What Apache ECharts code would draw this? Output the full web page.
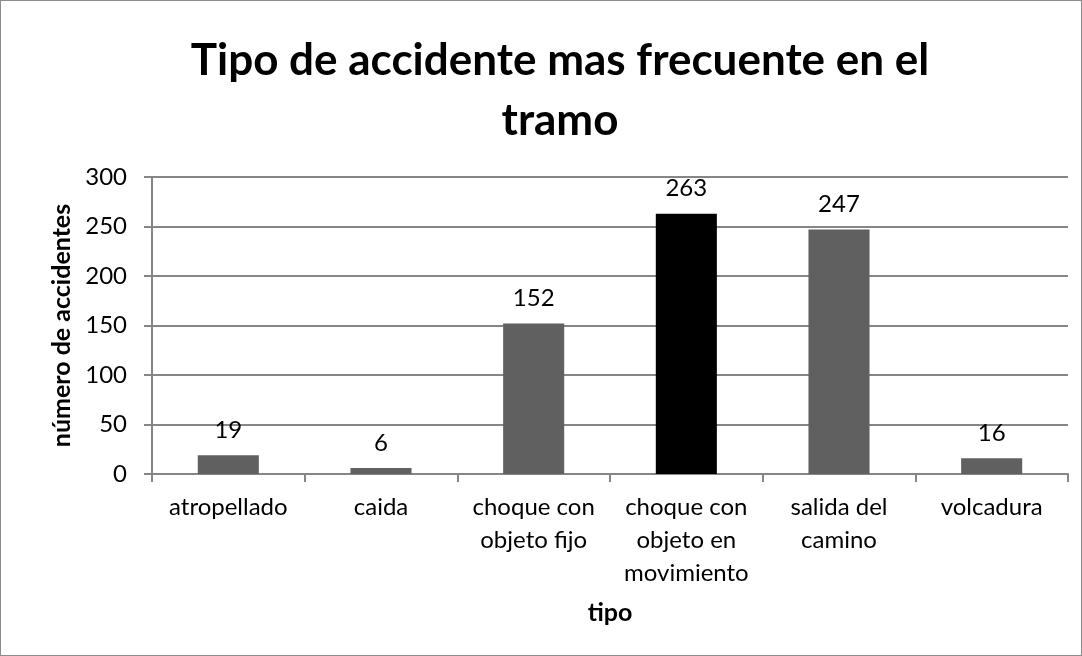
<!DOCTYPE html>
<html>
<head>
<meta charset="utf-8">
<script src="https://cdn.jsdelivr.net/npm/echarts@6/dist/echarts.min.js"></script>
<style>
  html, body { margin: 0; padding: 0; background: #fff; }
  #chart {
    width: 1080px;
    height: 654px;
    border: 1px solid #8c8c8c;
  }
</style>
</head>
<body>
<div id="chart"></div>
<script>
const categories = ['atropellado', 'caida', 'choque con\nobjeto fijo', 'choque con\nobjeto en\nmovimiento', 'salida del\ncamino', 'volcadura']
const values = [19, 6, 152, 263, 247, 16]
const highlight = 3

const font = 'Lato, "Open Sans", sans-serif'
const axisGrey = '#868686'

const chart = echarts.init(document.getElementById('chart'))
chart.setOption({
  textStyle: { fontFamily: font },
  title: {
    text: 'Tipo de accidente mas frecuente en el\ntramo',
    left: 554,
    textAlign: 'center',
    top: 25,
    textStyle: {
      fontFamily: font,
      fontSize: 44,
      fontWeight: 'bold',
      color: '#000',
      lineHeight: 60
    }
  },
  grid: { left: 151, right: 13, top: 176, bottom: 181 },
  xAxis: {
    type: 'category',
    data: categories,
    name: 'tipo',
    nameLocation: 'middle',
    nameGap: 126,
    nameTextStyle: { fontFamily: font, fontSize: 25, fontWeight: 'bold', color: '#000' },
    axisLine: { lineStyle: { color: axisGrey, width: 2 } },
    axisTick: { show: true, length: 8, lineStyle: { color: axisGrey, width: 2 } },
    axisLabel: { fontFamily: font, fontSize: 24, color: '#000', margin: 17, lineHeight: 33, interval: 0 }
  },
  yAxis: {
    type: 'value',
    min: 0,
    max: 300,
    interval: 50,
    name: 'número de accidentes',
    nameLocation: 'middle',
    nameGap: 76,
    nameTextStyle: { fontFamily: font, fontSize: 25, fontWeight: 'bold', color: '#000' },
    axisLine: { show: true, lineStyle: { color: axisGrey, width: 2 } },
    axisTick: { show: true, length: 8, lineStyle: { color: axisGrey, width: 2 } },
    axisLabel: { fontFamily: font, fontSize: 24, color: '#000', margin: 25 },
    splitLine: { lineStyle: { color: axisGrey, width: 2 } }
  },
  series: [{
    type: 'bar',
    barWidth: '40%',
    data: values.map((v, i) => ({
      value: v,
      itemStyle: { color: i === highlight ? '#000000' : '#606060' }
    })),
    label: {
      show: true,
      position: 'top',
      distance: 13,
      fontFamily: font,
      fontSize: 24,
      color: '#000'
    }
  }]
})
</script>
</body>
</html>
